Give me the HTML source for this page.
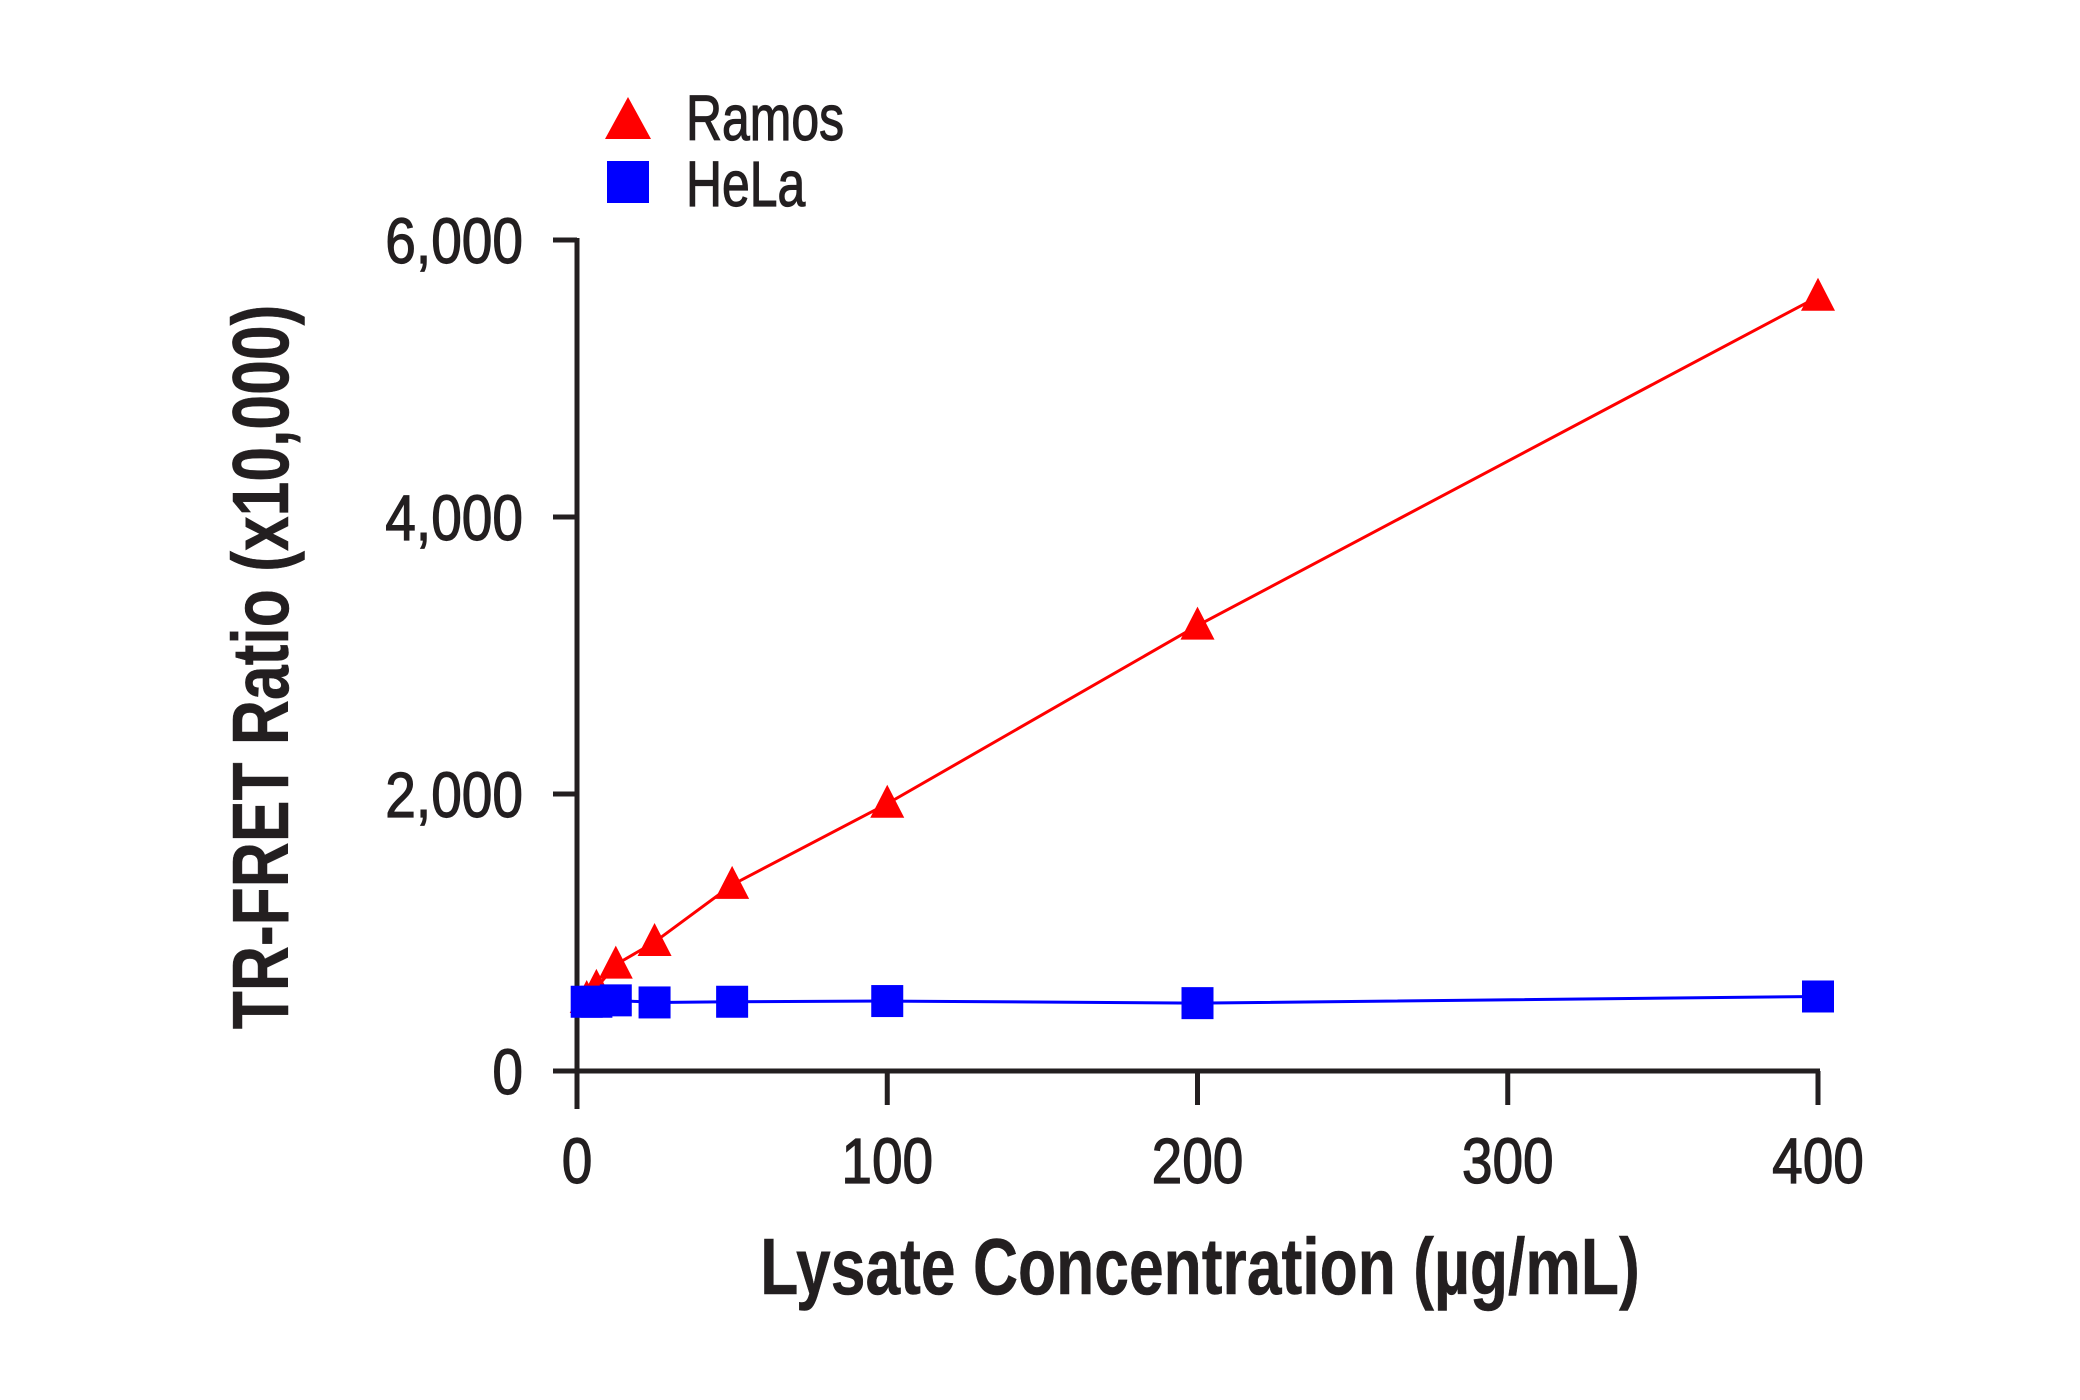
<!DOCTYPE html>
<html><head><meta charset="utf-8"><style>
html,body{margin:0;padding:0;background:#fff;width:2080px;height:1400px;overflow:hidden}
svg text{font-family:"Liberation Sans",sans-serif;fill:#231f20}
</style></head><body>
<svg id="chart" width="2080" height="1400" xmlns="http://www.w3.org/2000/svg"></svg>
<script>
const xTicks=[0,100,200,300,400];
const yTicks=[0,2000,4000,6000];
const yTickLabels=["0","2,000","4,000","6,000"];
const concentrations=[3.125,6.25,12.5,25,50,100,200,400];
const ramosValues=[520,600,768,931,1344,1930,3216,5590];
const helaValues=[500,500,510,495,500,505,490,538];
const NS="http://www.w3.org/2000/svg";
const svg=document.getElementById('chart');
const X0=577,X1=1818,Y0=1071,Y1=240;
const xs=v=>X0+(v/400)*(X1-X0);
const ys=v=>Y0-(v/6000)*(Y0-Y1);
function mk(tag,attrs,parent){const e=document.createElementNS(NS,tag);for(const k in attrs)e.setAttribute(k,attrs[k]);(parent||svg).appendChild(e);return e;}
function txt(x,y,s,size,anchor,bold,rot,sx){
  const t=rot?`translate(${x},${y}) rotate(-90) scale(${sx},1)`:`translate(${x},${y}) scale(${sx},1)`;
  const e=mk('text',{x:0,y:0,'text-anchor':anchor,'font-size':size,'font-weight':bold?'bold':'normal',transform:t,stroke:'#231f20','stroke-width':bold?0.5:1.2});
  e.textContent=s;return e;
}
let e;
e=mk('line',{x1:X0,y1:Y1-2,x2:X0,y2:Y0+38,stroke:'#231f20','stroke-width':5});


e=mk('line',{x1:X0-22,y1:Y0,x2:X1+2,y2:Y0,stroke:'#231f20','stroke-width':5});


yTicks.forEach((t,i)=>{
  e=mk('line',{x1:X0-24,y1:ys(t),x2:X0,y2:ys(t),stroke:'#231f20','stroke-width':5});
  
  
  e=txt(X0-54,ys(t)+23,yTickLabels[i],64,'end',false,false,0.86);
  
  
});
xTicks.forEach(t=>{
  e=mk('line',{x1:xs(t),y1:Y0,x2:xs(t),y2:Y0+34,stroke:'#231f20','stroke-width':5});
  
  
  e=txt(xs(t),1183,String(t),64,'middle',false,false,0.86);
  
  
});
e=txt(1200,1294,'Lysate Concentration (µg/mL)',80,'middle',true,false,0.78);


e=txt(288,667,'TR-FRET Ratio (x10,000)',80,'middle',true,true,0.78);


function series(vals,color,name,marker){
  const pts=concentrations.map((c,i)=>xs(c)+','+ys(vals[i])).join(' ');
  e=mk('polyline',{points:pts,fill:'none',stroke:color,'stroke-width':3});
  
  
  concentrations.forEach((c,i)=>{
    const x=xs(c),y=ys(vals[i]);
    if(marker==='tri'){e=mk('polygon',{points:`${x},${y-19} ${x-17},${y+14} ${x+17},${y+14}`,fill:color});}
    else{e=mk('rect',{x:x-16,y:y-16,width:32,height:32,fill:color});}
    
    
  });
}
series(ramosValues,'#ff0000','ramos','tri');
series(helaValues,'#0000ff','hela','sq');
e=mk('polygon',{points:'628,97 605,139 651,139',fill:'#ff0000'});


e=txt(686,140,'Ramos',64,'start',false,false,0.78);


e=mk('rect',{x:607,y:161,width:42,height:42,fill:'#0000ff'});


e=txt(686,206,'HeLa',64,'start',false,false,0.78);


</script>
</body></html>
